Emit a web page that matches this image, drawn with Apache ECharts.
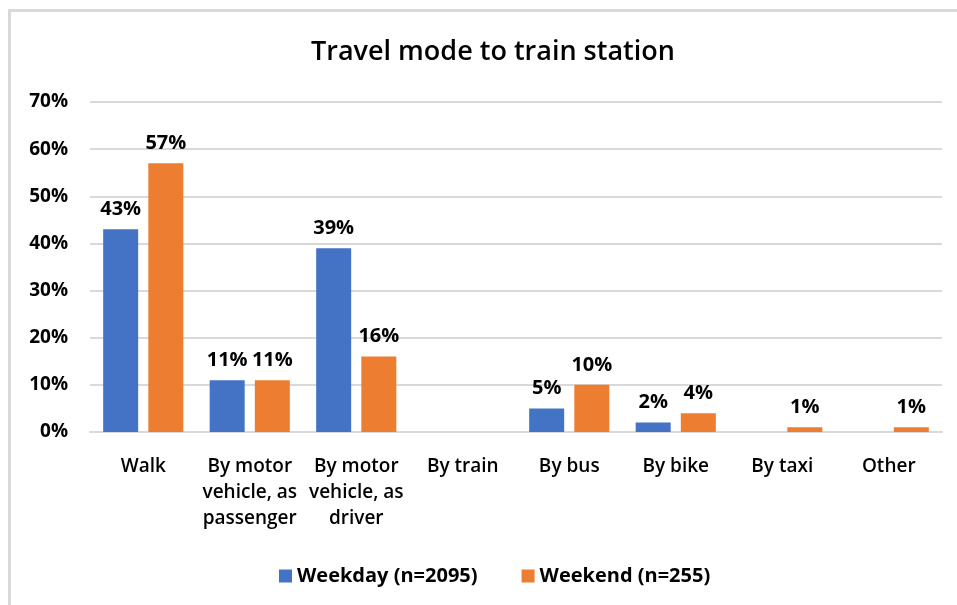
<!DOCTYPE html>
<html>
<head>
<meta charset="utf-8">
<script src="https://cdn.jsdelivr.net/npm/echarts@6/dist/echarts.min.js"></script>
<style>
  html, body { margin: 0; padding: 0; background: #fff; }
  #frame {
    position: absolute; left: 8px; top: 9px; width: 949px; height: 596px;
    border-top: 3px solid #d9d9d9; border-left: 3px solid #d9d9d9;
  }
  #chart { position: absolute; left: 0; top: 0; width: 957px; height: 605px; }
</style>
</head>
<body>
<div id="frame"></div>
<div id="chart"></div>
<script>
const categories = ['Walk', 'By motor\nvehicle, as\npassenger', 'By motor\nvehicle, as\ndriver', 'By train', 'By bus', 'By bike', 'By taxi', 'Other'];
const weekday = [43, 11, 39, null, 5, 2, null, null];
const weekend = [57, 11, 16, null, 10, 4, 1, 1];
const yTicks = [0, 10, 20, 30, 40, 50, 60, 70];

const font = '"Open Sans", "Noto Sans", sans-serif';

const chart = echarts.init(document.getElementById('chart'), null, { renderer: 'canvas' });

const labelStyle = {
  show: true,
  position: 'top',
  distance: 10,
  formatter: p => p.value + '%',
  color: '#000',
  fontFamily: font,
  fontSize: 20,
  fontWeight: 'bold'
};

chart.setOption({
  animation: false,
  title: {
    text: 'Travel mode to train station',
    left: 306,
    top: 34,
    textStyle: { fontFamily: font, fontSize: 27, fontWeight: 600, color: '#000' }
  },
  legend: {
    bottom: 14,
    left: 274,
    itemWidth: 13,
    itemHeight: 13,
    itemGap: 44,
    icon: 'rect',
    textStyle: { fontFamily: font, fontSize: 20, fontWeight: 'bold', color: '#000' },
    data: ['Weekday (n=2095)', 'Weekend (n=255)']
  },
  grid: { left: 90, right: 15, top: 102, bottom: 173 },
  xAxis: {
    type: 'category',
    data: categories,
    axisTick: { show: false },
    axisLine: { lineStyle: { color: '#d9d9d9', width: 2 } },
    axisLabel: {
      interval: 0,
      margin: 22,
      lineHeight: 26,
      color: '#000',
      fontFamily: font,
      fontSize: 19,
      fontWeight: 600
    }
  },
  yAxis: {
    type: 'value',
    min: 0,
    max: 70,
    interval: 10,
    axisLabel: {
      formatter: v => yTicks.includes(v) ? v + '%' : '',
      margin: 22,
      color: '#000',
      fontFamily: font,
      fontSize: 19,
      fontWeight: 'bold'
    },
    axisLine: { show: false },
    axisTick: { show: false },
    splitLine: { lineStyle: { color: '#d9d9d9', width: 2 } }
  },
  series: [
    {
      name: 'Weekday (n=2095)',
      type: 'bar',
      data: weekday,
      barWidth: 35,
      barGap: '29%',
      itemStyle: { color: '#4472c4' },
      label: labelStyle
    },
    {
      name: 'Weekend (n=255)',
      type: 'bar',
      data: weekend,
      barWidth: 35,
      itemStyle: { color: '#ed7d31' },
      label: labelStyle
    }
  ]
});
</script>
</body>
</html>
